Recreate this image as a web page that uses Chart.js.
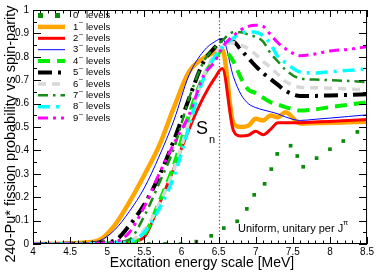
<!DOCTYPE html>
<html><head><meta charset="utf-8">
<script src="https://cdn.jsdelivr.net/npm/chart.js@4/dist/chart.umd.min.js"></script>
<style>html,body{margin:0;padding:0;background:#fff}canvas{display:block}</style>
</head><body>
<canvas id="c" width="376" height="273"></canvas>
<script>
// ---- data ----
const energies = [4.0,4.5,4.7,4.9,5.1,5.3,5.5,5.7,5.9,6.1,6.3,6.45,6.55,6.7,6.8,6.9,7.0,7.1,7.2,7.3,7.4,7.6,7.8,8.0,8.25,8.5];
const p1 = [0,0.002,0.006,0.018,0.08,0.18,0.295,0.42,0.585,0.735,0.795,0.82,0.83,0.515,0.50,0.505,0.535,0.528,0.549,0.542,0.563,0.515,0.517,0.518,0.52,0.522];
const p2 = [0,0,0,0.001,0.003,0.008,0.03,0.17,0.325,0.49,0.63,0.71,0.75,0.485,0.462,0.465,0.482,0.467,0.49,0.518,0.518,0.518,0.521,0.524,0.528,0.532];
const p3 = [0,0.001,0.004,0.014,0.06,0.14,0.24,0.375,0.53,0.72,0.825,0.865,0.878,0.715,0.64,0.60,0.583,0.573,0.565,0.556,0.543,0.528,0.533,0.538,0.545,0.552];
const p4 = [0,0,0.001,0.002,0.004,0.008,0.04,0.18,0.34,0.55,0.72,0.79,0.83,0.78,0.71,0.66,0.645,0.625,0.606,0.596,0.585,0.57,0.575,0.585,0.595,0.605];
const p5 = [0,0.001,0.002,0.006,0.015,0.08,0.17,0.29,0.445,0.62,0.78,0.84,0.87,0.865,0.83,0.795,0.76,0.73,0.705,0.68,0.655,0.633,0.633,0.635,0.637,0.64];
const p6 = [0,0,0.001,0.002,0.005,0.012,0.06,0.17,0.32,0.52,0.72,0.81,0.845,0.86,0.85,0.835,0.81,0.78,0.755,0.725,0.695,0.67,0.668,0.666,0.662,0.66];
const p7 = [0,0,0.001,0.003,0.008,0.02,0.12,0.26,0.41,0.62,0.78,0.84,0.87,0.905,0.905,0.895,0.885,0.865,0.815,0.78,0.745,0.707,0.703,0.70,0.697,0.692];
const p8 = [0,0,0.001,0.002,0.004,0.01,0.05,0.15,0.29,0.50,0.71,0.80,0.84,0.88,0.90,0.907,0.905,0.89,0.855,0.80,0.775,0.735,0.731,0.736,0.742,0.748];
const p9 = [0,0,0.001,0.003,0.008,0.05,0.16,0.30,0.43,0.55,0.72,0.78,0.84,0.89,0.915,0.93,0.935,0.93,0.895,0.86,0.835,0.805,0.812,0.825,0.832,0.843];
const zeroE = [4.0,4.2,4.4,4.6,4.8,5.0,5.15,5.34,5.56,5.78,5.99,6.2,6.4,6.57,6.75,6.88,6.98,7.12,7.21,7.29,7.47,7.56,7.64,7.82,8.0,8.18,8.37];
const zeroP = [0,0,0,0,0,0,0,0,0,0,0,0.01,0.035,0.068,0.097,0.15,0.21,0.257,0.32,0.385,0.42,0.376,0.33,0.367,0.405,0.44,0.479];
const levelNames = ['0','1','2','3','4','5','6','7','8','9'];
const xTicks = [4,4.5,5,5.5,6,6.5,7,7.5,8,8.5];
const yTicks = [0,0.1,0.2,0.3,0.4,0.5,0.6,0.7,0.8,0.9,1];
const snEnergy = 6.5;

const series = [p1,p2,p3,p4,p5,p6,p7,p8,p9];
const styles = [
  {c:'#ffa500', w:4.5, d:[]},
  {c:'#ff0000', w:3, d:[]},
  {c:'#0000ff', w:1, d:[]},
  {c:'#00ee00', w:4, d:[12,7]},
  {c:'#000000', w:4, d:[14,6,3,6]},
  {c:'#d8d8d8', w:3.5, d:[8,6]},
  {c:'#1a8c1a', w:2.5, d:[10,5,2.5,5]},
  {c:'#00ffff', w:3.5, d:[12,6,3,6]},
  {c:'#ff00ff', w:3, d:[10,5,3,5,3,5]}
];
const zeroColor = '#0b8a0b';

const datasets = [{
  label: levelNames[0],
  data: zeroE.map((e,i)=>({x:e,y:zeroP[i]})),
  showLine:false, pointStyle:'rect', pointRadius:2.6, pointBackgroundColor:zeroColor, pointBorderWidth:0,
  order: 0
}];
series.forEach((s,k)=>{
  datasets.push({
    label: levelNames[k+1],
    data: energies.map((e,i)=>({x:e,y:s[i]})),
    showLine:true, pointRadius:0, borderColor:styles[k].c, borderWidth:styles[k].w,
    borderDash:styles[k].d, cubicInterpolationMode:'monotone', fill:false,
    order: -(k+1)
  });
});

const FONT = '"Liberation Sans", Arial, Helvetica, sans-serif';

const decor = {
  id:'decor',
  beforeDatasetsDraw(chart){
    const {ctx, chartArea:a, scales:{x}} = chart;
    ctx.save();
    ctx.strokeStyle='#555'; ctx.lineWidth=1.2; ctx.setLineDash([1.3,2.2]);
    const px = Math.round(x.getPixelForValue(snEnergy))+0.5;
    ctx.beginPath(); ctx.moveTo(px,a.top); ctx.lineTo(px,a.bottom); ctx.stroke();
    ctx.restore();
  },
  afterDraw(chart){
    const {ctx, chartArea:a, scales:{x,y}} = chart;
    ctx.save();
    ctx.strokeStyle='#000'; ctx.lineWidth=1; ctx.setLineDash([]);
    ctx.strokeRect(a.left+0.5,a.top+0.5,a.right-a.left-1,a.bottom-a.top-1);
    ctx.beginPath();
    for(let v=4; v<=8.5001; v+=0.1){
      const p=Math.round(x.getPixelForValue(v))+0.5;
      const major = Math.abs(v*2-Math.round(v*2))<1e-6;
      const L = major?7:3.5;
      ctx.moveTo(p,a.bottom); ctx.lineTo(p,a.bottom-L);
      ctx.moveTo(p,a.top); ctx.lineTo(p,a.top+L);
    }
    for(let v=0; v<=1.0001; v+=0.05){
      const p=Math.round(y.getPixelForValue(v))+0.5;
      const major = Math.abs(v*10-Math.round(v*10))<1e-6;
      const L = major?8:4;
      ctx.moveTo(a.left,p); ctx.lineTo(a.left+L,p);
      ctx.moveTo(a.right,p); ctx.lineTo(a.right-L,p);
    }
    ctx.stroke();

    // legend
    ctx.textBaseline='middle'; ctx.textAlign='left';
    for(let i=0;i<10;i++){
      const ry = 15.5 + i*11.4;
      if(i===0){
        ctx.fillStyle=zeroColor;
        ctx.fillRect(38,ry-2.5,5,5); ctx.fillRect(55,ry-2.5,5,5);
      } else {
        const s=styles[i-1];
        ctx.strokeStyle=s.c; ctx.lineWidth=s.w; ctx.setLineDash(s.d);
        ctx.beginPath(); ctx.moveTo(38,ry); ctx.lineTo(65,ry); ctx.stroke();
        ctx.setLineDash([]);
      }
      ctx.fillStyle='#000';
      ctx.font='9.5px '+FONT;
      ctx.fillText(levelNames[i],73,ry);
      if(i>0){ ctx.font='7px '+FONT; ctx.fillText('\u2013',79,ry-4.5); }
      ctx.font='9.5px '+FONT;
      ctx.fillText('levels',86,ry);
    }

    // annotations
    ctx.textBaseline='alphabetic';
    ctx.font='18px '+FONT; ctx.fillText('S',196,134);
    ctx.font='11px '+FONT; ctx.fillText('n',209,143);
    ctx.font='11px '+FONT; ctx.fillText('Uniform, unitary per J',238,232);
    ctx.font='7.5px '+FONT; ctx.fillText('\u03c0',343,225);

    // axis titles
    ctx.font='14px '+FONT; ctx.textAlign='center';
    ctx.fillText('Excitation energy scale [MeV]',202,267);
    ctx.save(); ctx.translate(15,134); ctx.rotate(-Math.PI/2);
    ctx.font='14.5px '+FONT;
    ctx.fillText('240-Pu* fission probability vs spin-parity',0,0);
    ctx.restore();
    ctx.restore();
  }
};

new Chart(document.getElementById('c'),{
  type:'scatter',
  data:{datasets},
  options:{
    responsive:false, animation:false, devicePixelRatio:1,
    layout:{padding:{top:6,right:8,left:0,bottom:0}},
    plugins:{legend:{display:false},tooltip:{enabled:false}},
    scales:{
      x:{type:'linear',min:4,max:8.5,
        afterBuildTicks(s){ s.ticks = xTicks.map(v=>({value:v})); },
        ticks:{font:{size:10,family:FONT},color:'#000',padding:2,maxRotation:0,autoSkip:false,
          callback:v=>String(v)},
        grid:{display:false,drawTicks:false}, border:{display:false},
        afterFit(s){ s.height=29; }
      },
      y:{type:'linear',min:0,max:1,
        afterBuildTicks(s){ s.ticks = yTicks.map(v=>({value:v})); },
        ticks:{font:{size:10,family:FONT},color:'#000',padding:4,autoSkip:false,
          callback:v=>String(+v.toFixed(1))},
        grid:{display:false,drawTicks:false}, border:{display:false},
        afterFit(s){ s.width=33; }
      }
    }
  },
  plugins:[decor]
});
</script>
</body></html>
